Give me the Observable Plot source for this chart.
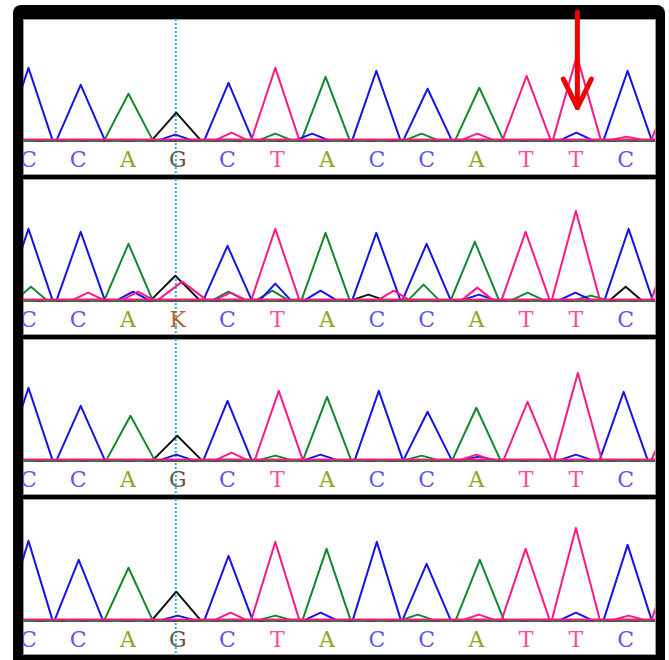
<!DOCTYPE html>
<html>
<head>
<meta charset="utf-8">
<script src="https://cdn.jsdelivr.net/npm/d3@7"></script>
<script src="https://cdn.jsdelivr.net/npm/@observablehq/plot@0.6"></script>
<style>
  body { margin: 0; background: #fff; }
  #wrap { position: relative; width: 669px; height: 660px; }
  #border { position: absolute; left: 13px; top: 5px; width: 652px; height: 655px; background: #000; border-radius: 8px 8px 0 0; }
  #wrap svg { position: absolute; left: 0; top: 0; }
</style>
</head>
<body>
<div id="wrap"><div id="border"></div></div>
<script>
// Base calls of the four samples (13 positions of the read)
const calls1 = ["C", "C", "A", "G", "C", "T", "A", "C", "C", "A", "T", "T", "C"];
const calls2 = ["C", "C", "A", "K", "C", "T", "A", "C", "C", "A", "T", "T", "C"];
const calls3 = ["C", "C", "A", "G", "C", "T", "A", "C", "C", "A", "T", "T", "C"];
const calls4 = ["C", "C", "A", "G", "C", "T", "A", "C", "C", "A", "T", "T", "C"];

// Trace peaks per sample and dye: [position in base units, relative signal]
const s1A = [[2.01, 46], [5.97, 63], [9.06, 52], [4.96, 6], [7.9, 6]];
const s1C = [[0, 72], [1.05, 55], [4.02, 57], [6.99, 69], [8.02, 51], [12.04, 69], [2.95, 5], [5.7, 6], [11.01, 7]];
const s1G = [[2.97, 27]];
const s1T = [[4.96, 72], [10.01, 64], [11.02, 84], [13.0, 62], [4.08, 7], [9.02, 6], [12.02, 3]];

const s2A = [[2.01, 56], [5.97, 67], [8.97, 58], [0.05, 13], [4.02, 8], [4.9, 9], [7.94, 15], [10.03, 7], [11.3, 4]];
const s2C = [[0, 71], [1.05, 68], [4.0, 54], [6.99, 67], [8.0, 56], [12.06, 71], [2.1, 8], [4.96, 16], [5.87, 9], [9.05, 5], [10.99, 7]];
const s2G = [[2.95, 24], [6.83, 5], [12.0, 13]];
const s2T = [[3.09, 18], [4.96, 71], [9.99, 68], [11.0, 89], [13.0, 72], [1.2, 7], [2.2, 8], [4.06, 7], [7.34, 9], [9.02, 12]];

const s3A = [[2.05, 44], [6.0, 63], [9.0, 52], [4.96, 4], [7.9, 4]];
const s3C = [[0, 72], [1.05, 54], [4.0, 59], [7.04, 69], [8.02, 48], [11.96, 68], [2.97, 5], [5.87, 5], [9.05, 3], [11.0, 5]];
const s3G = [[2.99, 24]];
const s3T = [[5.03, 69], [10.03, 58], [11.04, 87], [13.0, 54], [4.08, 7], [9.0, 5]];

const s4A = [[2.01, 52], [5.99, 71], [9.07, 60], [4.96, 4], [7.82, 5]];
const s4C = [[0, 79], [1.01, 60], [4.02, 64], [7.0, 78], [8.0, 56], [12.04, 75], [3.0, 4], [5.87, 7], [11.0, 7]];
const s4G = [[2.97, 28]];
const s4T = [[4.96, 78], [9.99, 71], [11.0, 92], [13.0, 66], [4.06, 7], [9.05, 5], [12.06, 4]];

// Marked position (heterozygous site) and the arrowed base in sample 1
const cursorPos = 2.96;
const arrowMarks = [{sample: 1, pos: 11.03, from: 128, to: 32}];

const samples = [
  {calls: calls1, A: s1A, C: s1C, G: s1G, T: s1T},
  {calls: calls2, A: s2A, C: s2C, G: s2G, T: s2T},
  {calls: calls3, A: s3A, C: s3C, G: s3G, T: s3T},
  {calls: calls4, A: s4A, C: s4C, G: s4G, T: s4T}
];

const dyeColor = {A: "#12882c", C: "#1414e6", G: "#111111", T: "#fa1a86"};
const baseColor = {A: "#8ea51c", C: "#5a5af2", G: "#6a5634", T: "#ff4c9c", K: "#b2662a"};

// Each peak is drawn as a foot–apex–foot polyline
const halfWidth = (h) => (h >= 17 ? 0.48 : 0.3);
const tracePoints = [];
const letters = [];
samples.forEach((s, si) => {
  const sample = si + 1;
  for (const dye of ["A", "C", "G", "T"]) {
    s[dye].forEach(([pos, sig], k) => {
      const w = halfWidth(sig);
      const id = `${sample}-${dye}-${k}`;
      tracePoints.push({sample, dye, id, pos: pos - w, sig: 0});
      tracePoints.push({sample, dye, id, pos, sig});
      tracePoints.push({sample, dye, id, pos: pos + w, sig: 0});
    });
  }
  s.calls.forEach((base, i) => letters.push({sample, pos: i, base}));
});

const traceMark = (dye) =>
  Plot.line(tracePoints.filter((d) => d.dye === dye), {
    x: "pos", y: "sig", z: "id", fy: "sample",
    stroke: dyeColor[dye], strokeWidth: 2, clip: true
  });

const chart = Plot.plot({
  width: 669,
  height: 660,
  marginTop: 18,
  marginBottom: 5,
  marginLeft: 23,
  marginRight: 14,
  style: {background: "transparent", overflow: "visible"},
  x: {domain: [-0.1, 12.6], axis: null},
  y: {domain: [-35, 120.5], axis: null},
  fy: {axis: null, paddingInner: 0.031, paddingOuter: 0},
  marks: [
    Plot.frame({fill: "white", stroke: "#9a9a9a", strokeWidth: 1}),
    Plot.ruleX([cursorPos], {stroke: "#1fb0e8", strokeWidth: 2, strokeDasharray: "2,2"}),
    Plot.ruleY([0], {stroke: "#111", strokeWidth: 1.5, dy: 1.5}),
    Plot.ruleY([0], {stroke: dyeColor.A, strokeWidth: 2, dy: 1.5, strokeDasharray: "12,10"}),
    traceMark("G"),
    traceMark("A"),
    traceMark("C"),
    traceMark("T"),
    Plot.ruleY([0], {stroke: dyeColor.T, strokeWidth: 2}),
    Plot.text(letters, {
      x: "pos", y: -20, fy: "sample", text: "base",
      fill: (d) => baseColor[d.base],
      fontFamily: "DejaVu Serif", fontSize: 22, lineAnchor: "middle", clip: true
    }),
    Plot.arrow(arrowMarks, {
      x: "pos", y1: "from", y2: "to", fy: "sample",
      stroke: "#f00000", strokeWidth: 5, headLength: 10, headAngle: 52
    })
  ]
});

document.getElementById("wrap").appendChild(chart);
</script>
</body>
</html>
